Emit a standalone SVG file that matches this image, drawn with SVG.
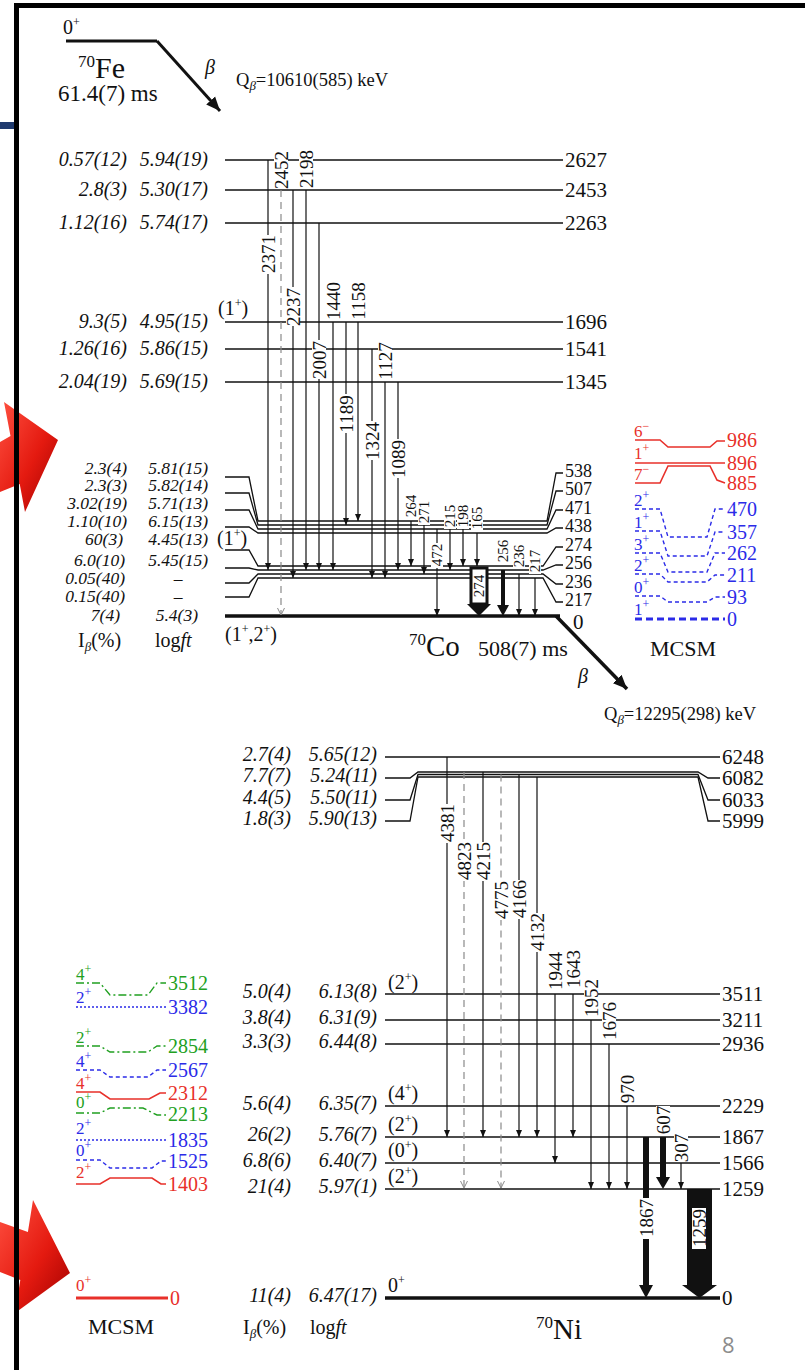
<svg xmlns="http://www.w3.org/2000/svg" width="805" height="1370" viewBox="0 0 805 1370">
<defs>
<style>
text { font-family: "Liberation Serif", "Times New Roman", serif; fill: #111; }
.n { font-size: 21px; }
.m { font-size: 18px; }
.i { font-size: 20px; font-style: italic; }
.j { font-size: 17.5px; font-style: italic; }
.sp { font-size: 20px; }
.r4 { font-size: 19px; }
.r3 { font-size: 15px; }
.lv { stroke: #111; stroke-width: 1.3; fill: none; }
.tr { stroke: #111; stroke-width: 1.2; fill: none; }
.ds { stroke: #8a8a8a; stroke-width: 1.2; stroke-dasharray: 7 5; fill: none; }
.red { stroke: #e8302a; stroke-width: 1.6; fill: none; }
.blu { stroke: #2b2be8; stroke-width: 1.4; fill: none; stroke-dasharray: 4 3; }
.bdt { stroke: #2b2be8; stroke-width: 1.4; fill: none; stroke-dasharray: 2 2; }
.grn { stroke: #21a021; stroke-width: 1.4; fill: none; stroke-dasharray: 8 3 2 3; }
.tR { fill: #e8302a; font-size: 20px; }
.tB { fill: #2b2be8; font-size: 20px; }
.tG { fill: #21a021; font-size: 20px; }
.sR { fill: #e8302a; font-size: 17px; }
.sB { fill: #2b2be8; font-size: 17px; }
.sG { fill: #21a021; font-size: 17px; }
.wb { fill: #fff; }
</style>
<marker id="a" markerUnits="userSpaceOnUse" markerWidth="8" markerHeight="8" refX="7" refY="4" orient="auto"><path d="M0,1 L7,4 L0,7 Z" fill="#111"/></marker>
<marker id="h" markerUnits="userSpaceOnUse" markerWidth="9" markerHeight="9" refX="7" refY="4" orient="auto"><path d="M0,0.5 L7,4 L0,7.5" fill="none" stroke="#8a8a8a" stroke-width="1"/></marker>
<marker id="b" markerUnits="userSpaceOnUse" markerWidth="16" markerHeight="14" refX="14" refY="7" orient="auto"><path d="M0,1 L14,7 L0,13 Z" fill="#111"/></marker>
<linearGradient id="rg" x1="0" y1="0" x2="1" y2="1"><stop offset="0" stop-color="#ff5040"/><stop offset="0.55" stop-color="#e41a10"/><stop offset="1" stop-color="#a00000"/></linearGradient>
</defs>

<rect x="0" y="0" width="805" height="1370" fill="#fff"/>

<g id="decor">
<path d="M0,442 L10.5,436 L4,402 L58,440 L25,512 L19.7,484 L0,492 Z" fill="url(#rg)"/>
<path d="M0,1222 L27.9,1232 L33,1200 L70,1273 L15,1313 L20.3,1280 L0,1272 Z" fill="url(#rg)"/>
<rect x="0" y="122" width="17" height="7" fill="#1f3a6e"/>
<rect x="14" y="3" width="791" height="5" fill="#000"/>
<rect x="14" y="3" width="5" height="1367" fill="#000"/>
</g>

<g id="fe70">
<text class="sp" x="63" y="34">0<tspan font-size="12" dy="-8">+</tspan></text>
<line x1="66" y1="41" x2="157" y2="41" stroke="#111" stroke-width="3"/>
<line x1="157" y1="41" x2="220" y2="111" stroke="#111" stroke-width="3" marker-end="url(#b)"/>
<text x="78" y="78" font-size="30"><tspan font-size="17" dy="-11">70</tspan><tspan dy="11">Fe</tspan></text>
<text x="58" y="101" font-size="23">61.4(7) ms</text>
<text x="205" y="74" font-size="20" font-style="italic">β</text>
<text x="236" y="86" font-size="18.5">Q<tspan font-size="13" dy="4" font-style="italic">β</tspan><tspan dy="-4">=10610(585) keV</tspan></text>
</g>

<g id="co70-levels">
<g id="co-2627"><line class="lv" x1="225" y1="160" x2="563" y2="160"/><text class="i" x="127" y="166" text-anchor="end">0.57(12)</text><text class="i" x="208" y="166" text-anchor="end">5.94(19)</text><text class="n" x="565" y="167">2627</text></g>
<g id="co-2453"><line class="lv" x1="225" y1="190" x2="563" y2="190"/><text class="i" x="127" y="196" text-anchor="end">2.8(3)</text><text class="i" x="208" y="196" text-anchor="end">5.30(17)</text><text class="n" x="565" y="197">2453</text></g>
<g id="co-2263"><line class="lv" x1="225" y1="223" x2="563" y2="223"/><text class="i" x="127" y="229" text-anchor="end">1.12(16)</text><text class="i" x="208" y="229" text-anchor="end">5.74(17)</text><text class="n" x="565" y="230">2263</text></g>
<g id="co-1696"><line class="lv" x1="225" y1="322" x2="563" y2="322"/><text class="i" x="127" y="328" text-anchor="end">9.3(5)</text><text class="i" x="208" y="328" text-anchor="end">4.95(15)</text><text class="n" x="565" y="329">1696</text><text class="sp" x="218" y="315">(1<tspan font-size="12" dy="-8">+</tspan><tspan dy="8">)</tspan></text></g>
<g id="co-1541"><line class="lv" x1="225" y1="349" x2="563" y2="349"/><text class="i" x="127" y="355" text-anchor="end">1.26(16)</text><text class="i" x="208" y="355" text-anchor="end">5.86(15)</text><text class="n" x="565" y="356">1541</text></g>
<g id="co-1345"><line class="lv" x1="225" y1="382" x2="563" y2="382"/><text class="i" x="127" y="388" text-anchor="end">2.04(19)</text><text class="i" x="208" y="388" text-anchor="end">5.69(15)</text><text class="n" x="565" y="389">1345</text></g>

<g id="co-538"><path class="lv" d="M225,477 H249 L258,521 H547 L556,473 H563"/><text class="j" x="127" y="474" text-anchor="end">2.3(4)</text><text class="j" x="208" y="474" text-anchor="end">5.81(15)</text><text class="m" x="565" y="477">538</text></g>
<g id="co-507"><path class="lv" d="M225,493 H249 L258,525 H547 L556,491 H563"/><text class="j" x="127" y="491" text-anchor="end">2.3(3)</text><text class="j" x="208" y="491" text-anchor="end">5.82(14)</text><text class="m" x="565" y="495">507</text></g>
<g id="co-471"><path class="lv" d="M225,510 H249 L258,529 H547 L556,510 H563"/><text class="j" x="127" y="509" text-anchor="end">3.02(19)</text><text class="j" x="208" y="509" text-anchor="end">5.71(13)</text><text class="m" x="565" y="514">471</text></g>
<g id="co-438"><path class="lv" d="M225,527 H249 L258,533 H547 L556,528 H563"/><text class="j" x="127" y="527" text-anchor="end">1.10(10)</text><text class="j" x="208" y="527" text-anchor="end">6.15(13)</text><text class="m" x="565" y="532">438</text></g>
<g id="co-274"><path class="lv" d="M225,550 H249 L258,566 H543 L556,547 H563"/><text class="j" x="123" y="545" text-anchor="end">60(3)</text><text class="j" x="208" y="545" text-anchor="end">4.45(13)</text><text class="m" x="565" y="551">274</text><text class="sp" x="217" y="545">(1<tspan font-size="12" dy="-8">+</tspan><tspan dy="8">)</tspan></text></g>
<g id="co-256"><path class="lv" d="M225,568 H249 L258,570 H543 L556,565 H563"/><text class="j" x="125" y="566" text-anchor="end">6.0(10)</text><text class="j" x="208" y="566" text-anchor="end">5.45(15)</text><text class="m" x="565" y="569">256</text></g>
<g id="co-236"><path class="lv" d="M225,583 H249 L258,574 H543 L556,584 H563"/><text class="j" x="125" y="584" text-anchor="end">0.05(40)</text><text class="j" x="178" y="584" text-anchor="middle">–</text><text class="m" x="565" y="588">236</text></g>
<g id="co-217"><path class="lv" d="M225,597 H249 L258,578 H543 L556,602 H563"/><text class="j" x="125" y="602" text-anchor="end">0.15(40)</text><text class="j" x="178" y="602" text-anchor="middle">–</text><text class="m" x="565" y="606">217</text></g>
<g id="co-0"><line x1="225" y1="616" x2="560" y2="616" stroke="#111" stroke-width="3.5"/><text class="j" x="120" y="621" text-anchor="end">7(4)</text><text class="j" x="198" y="621" text-anchor="end">5.4(3)</text><text class="n" x="573" y="629">0</text><text class="sp" x="225" y="641">(1<tspan font-size="12" dy="-8">+</tspan><tspan dy="8">,2</tspan><tspan font-size="12" dy="-8">+</tspan><tspan dy="8">)</tspan></text></g>
<g id="co-cols"><text class="sp" x="78" y="647">I<tspan font-size="13" dy="4" font-style="italic">β</tspan><tspan dy="-4">(%)</tspan></text><text class="sp" x="155" y="647">log<tspan font-style="italic">ft</tspan></text></g>
<g id="co-title"><text x="409" y="656" font-size="29"><tspan font-size="17" dy="-11">70</tspan><tspan dy="11">Co</tspan></text><text x="478" y="656" font-size="22">508(7) ms</text>
<line x1="556" y1="616" x2="627" y2="689" stroke="#111" stroke-width="3.5" marker-end="url(#b)"/>
<text x="578" y="683" font-size="20" font-style="italic">β</text>
<text x="604" y="720" font-size="18.5">Q<tspan font-size="13" dy="4" font-style="italic">β</tspan><tspan dy="-4">=12295(298) keV</tspan></text></g>
</g>

<g id="co-mcsm">
<path class="red" d="M635,440 H660 L668,447 H710 L717,441 H725"/>
<path class="red" d="M635,463 H725" stroke-width="2.2"/>
<path class="red" d="M635,483 H660 L668,466 H710 L717,480 L725,483"/>
<text class="sR" x="634" y="437">6<tspan font-size="12" dy="-7">−</tspan></text>
<text class="sR" x="634" y="459">1<tspan font-size="12" dy="-7">+</tspan></text>
<text class="sR" x="634" y="480">7<tspan font-size="12" dy="-7">−</tspan></text>
<text class="tR" x="727" y="447">986</text>
<text class="tR" x="727" y="470">896</text>
<text class="tR" x="727" y="490">885</text>
<path class="blu" d="M635,509 H660 L668,537 H707 L715,509 H725"/>
<path class="blu" d="M635,531 H660 L668,556 H707 L715,532 H725"/>
<path class="blu" d="M635,553 H660 L668,572 H707 L715,553 H725"/>
<path class="blu" d="M635,574 H660 L668,582 H707 L715,575 H725"/>
<path class="blu" d="M635,596 H660 L668,602 H707 L715,597 H725"/>
<path d="M635,619 H725" stroke="#2b2be8" stroke-width="3" stroke-dasharray="7 4" fill="none"/>
<text class="sB" x="634" y="506">2<tspan font-size="12" dy="-7">+</tspan></text>
<text class="sB" x="634" y="528">1<tspan font-size="12" dy="-7">+</tspan></text>
<text class="sB" x="634" y="550">3<tspan font-size="12" dy="-7">+</tspan></text>
<text class="sB" x="634" y="571">2<tspan font-size="12" dy="-7">+</tspan></text>
<text class="sB" x="634" y="593">0<tspan font-size="12" dy="-7">+</tspan></text>
<text class="sB" x="634" y="615">1<tspan font-size="12" dy="-7">+</tspan></text>
<text class="tB" x="727" y="516">470</text>
<text class="tB" x="727" y="539">357</text>
<text class="tB" x="727" y="560">262</text>
<text class="tB" x="727" y="582">211</text>
<text class="tB" x="727" y="604">93</text>
<text class="tB" x="727" y="626">0</text>
<text x="650" y="656" font-size="22">MCSM</text>
</g>

<g id="co-transitions">
<line class="tr" x1="268" y1="160" x2="268" y2="570" marker-end="url(#a)"/>
<line class="ds" x1="281" y1="190" x2="281" y2="615" marker-end="url(#h)"/>
<line class="tr" x1="293" y1="190" x2="293" y2="578" marker-end="url(#a)"/>
<line class="tr" x1="306" y1="190" x2="306" y2="570" marker-end="url(#a)"/>
<line class="tr" x1="319" y1="223" x2="319" y2="570" marker-end="url(#a)"/>
<line class="tr" x1="333" y1="322" x2="333" y2="570" stroke-width="2.2" marker-end="url(#a)"/>
<line class="tr" x1="346" y1="322" x2="346" y2="525" marker-end="url(#a)"/>
<line class="tr" x1="358" y1="322" x2="358" y2="521" marker-end="url(#a)"/>
<line class="tr" x1="372" y1="349" x2="372" y2="578" marker-end="url(#a)"/>
<line class="tr" x1="385" y1="382" x2="385" y2="578" marker-end="url(#a)"/>
<line class="tr" x1="398" y1="382" x2="398" y2="570" marker-end="url(#a)"/>
<line class="tr" x1="411" y1="521" x2="411" y2="566" marker-end="url(#a)"/>
<line class="tr" x1="424" y1="525" x2="424" y2="574" marker-end="url(#a)"/>
<line class="tr" x1="437" y1="529" x2="437" y2="616" marker-end="url(#a)"/>
<line class="tr" x1="450" y1="529" x2="450" y2="570" marker-end="url(#a)"/>
<line class="tr" x1="463" y1="529" x2="463" y2="566" marker-end="url(#a)"/>
<line class="tr" x1="477" y1="533" x2="477" y2="566" marker-end="url(#a)"/>
<rect x="471" y="568" width="16" height="36" fill="#fff" stroke="#111" stroke-width="3"/>
<polygon points="467,604 491,604 479,616" fill="#111"/>
<rect x="501" y="570" width="4" height="36" fill="#111"/>
<polygon points="497,605 509,605 503,616" fill="#111"/>
<line class="tr" x1="519" y1="574" x2="519" y2="616" marker-end="url(#a)"/>
<line class="tr" x1="535" y1="578" x2="535" y2="616" marker-end="url(#a)"/>

<rect class="wb" x="261" y="235" width="14" height="39"/><text class="r4" text-anchor="middle" dy="0.35em" transform="translate(268,254) rotate(-90)">2371</text>
<rect class="wb" x="274" y="150" width="14" height="39"/><text class="r4" text-anchor="middle" dy="0.35em" transform="translate(281,170) rotate(-90)">2452</text>
<rect class="wb" x="299" y="149" width="14" height="39"/><text class="r4" text-anchor="middle" dy="0.35em" transform="translate(306,169) rotate(-90)">2198</text>
<rect class="wb" x="286" y="287" width="14" height="39"/><text class="r4" text-anchor="middle" dy="0.35em" transform="translate(293,307) rotate(-90)">2237</text>
<rect class="wb" x="326" y="281" width="14" height="39"/><text class="r4" text-anchor="middle" dy="0.35em" transform="translate(333,301) rotate(-90)">1440</text>
<rect class="wb" x="351" y="281" width="14" height="39"/><text class="r4" text-anchor="middle" dy="0.35em" transform="translate(358,301) rotate(-90)">1158</text>
<rect class="wb" x="312" y="340" width="14" height="39"/><text class="r4" text-anchor="middle" dy="0.35em" transform="translate(319,360) rotate(-90)">2007</text>
<rect class="wb" x="378" y="341" width="14" height="39"/><text class="r4" text-anchor="middle" dy="0.35em" transform="translate(385,361) rotate(-90)">1127</text>
<rect class="wb" x="339" y="394" width="14" height="39"/><text class="r4" text-anchor="middle" dy="0.35em" transform="translate(346,414) rotate(-90)">1189</text>
<rect class="wb" x="365" y="421" width="14" height="39"/><text class="r4" text-anchor="middle" dy="0.35em" transform="translate(372,441) rotate(-90)">1324</text>
<rect class="wb" x="391" y="439" width="14" height="39"/><text class="r4" text-anchor="middle" dy="0.35em" transform="translate(398,459) rotate(-90)">1089</text>
<rect class="wb" x="405" y="494" width="12" height="25"/><text class="r3" text-anchor="middle" dy="0.35em" transform="translate(411,506) rotate(-90)">264</text>
<rect class="wb" x="418" y="500" width="12" height="25"/><text class="r3" text-anchor="middle" dy="0.35em" transform="translate(424,512) rotate(-90)">271</text>
<rect class="wb" x="444" y="504" width="12" height="25"/><text class="r3" text-anchor="middle" dy="0.35em" transform="translate(450,516) rotate(-90)">215</text>
<rect class="wb" x="457" y="504" width="12" height="25"/><text class="r3" text-anchor="middle" dy="0.35em" transform="translate(463,516) rotate(-90)">198</text>
<rect class="wb" x="471" y="506" width="12" height="25"/><text class="r3" text-anchor="middle" dy="0.35em" transform="translate(477,518) rotate(-90)">165</text>
<rect class="wb" x="431" y="543" width="12" height="25"/><text class="r3" text-anchor="middle" dy="0.35em" transform="translate(437,555) rotate(-90)">472</text>
<rect class="wb" x="497" y="539" width="12" height="25"/><text class="r3" text-anchor="middle" dy="0.35em" transform="translate(503,551) rotate(-90)">256</text>
<rect class="wb" x="513" y="544" width="12" height="25"/><text class="r3" text-anchor="middle" dy="0.35em" transform="translate(519,556) rotate(-90)">236</text>
<rect class="wb" x="529" y="549" width="12" height="25"/><text class="r3" text-anchor="middle" dy="0.35em" transform="translate(535,561) rotate(-90)">217</text>
<text class="r3" text-anchor="middle" dy="0.35em" transform="translate(479,586) rotate(-90)">274</text>
</g>

<g id="ni70-levels">
<g id="ni-6248"><line class="lv" x1="385" y1="757" x2="720" y2="757"/><text class="i" x="291" y="761" text-anchor="end">2.7(4)</text><text class="i" x="377" y="761" text-anchor="end">5.65(12)</text><text class="n" x="722" y="764">6248</text></g>
<g id="ni-6082"><path class="lv" d="M385,778 H410 L418,772 H698 L708,778 H720"/><text class="i" x="291" y="782" text-anchor="end">7.7(7)</text><text class="i" x="377" y="782" text-anchor="end">5.24(11)</text><text class="n" x="722" y="785">6082</text></g>
<g id="ni-6033"><path class="lv" d="M385,800 H410 L418,774.5 H698 L708,800 H720"/><text class="i" x="291" y="804" text-anchor="end">4.4(5)</text><text class="i" x="377" y="804" text-anchor="end">5.50(11)</text><text class="n" x="722" y="807">6033</text></g>
<g id="ni-5999"><path class="lv" d="M385,821 H410 L418,777 H698 L708,821 H720"/><text class="i" x="291" y="825" text-anchor="end">1.8(3)</text><text class="i" x="377" y="825" text-anchor="end">5.90(13)</text><text class="n" x="722" y="828">5999</text></g>
<g id="ni-3511"><line class="lv" x1="385" y1="994" x2="720" y2="994"/><text class="i" x="291" y="998" text-anchor="end">5.0(4)</text><text class="i" x="377" y="998" text-anchor="end">6.13(8)</text><text class="n" x="722" y="1001">3511</text><text class="sp" x="388" y="989">(2<tspan font-size="12" dy="-8">+</tspan><tspan dy="8">)</tspan></text></g>
<g id="ni-3211"><line class="lv" x1="385" y1="1020" x2="720" y2="1020"/><text class="i" x="291" y="1024" text-anchor="end">3.8(4)</text><text class="i" x="377" y="1024" text-anchor="end">6.31(9)</text><text class="n" x="722" y="1027">3211</text></g>
<g id="ni-2936"><line class="lv" x1="385" y1="1044" x2="720" y2="1044"/><text class="i" x="291" y="1048" text-anchor="end">3.3(3)</text><text class="i" x="377" y="1048" text-anchor="end">6.44(8)</text><text class="n" x="722" y="1051">2936</text></g>
<g id="ni-2229"><line class="lv" x1="385" y1="1106" x2="720" y2="1106"/><text class="i" x="291" y="1110" text-anchor="end">5.6(4)</text><text class="i" x="377" y="1110" text-anchor="end">6.35(7)</text><text class="n" x="722" y="1113">2229</text><text class="sp" x="388" y="1100">(4<tspan font-size="12" dy="-8">+</tspan><tspan dy="8">)</tspan></text></g>
<g id="ni-1867"><line class="lv" x1="385" y1="1137" x2="720" y2="1137"/><text class="i" x="291" y="1141" text-anchor="end">26(2)</text><text class="i" x="377" y="1141" text-anchor="end">5.76(7)</text><text class="n" x="722" y="1144">1867</text><text class="sp" x="388" y="1131">(2<tspan font-size="12" dy="-8">+</tspan><tspan dy="8">)</tspan></text></g>
<g id="ni-1566"><line class="lv" x1="385" y1="1163" x2="720" y2="1163"/><text class="i" x="291" y="1167" text-anchor="end">6.8(6)</text><text class="i" x="377" y="1167" text-anchor="end">6.40(7)</text><text class="n" x="722" y="1170">1566</text><text class="sp" x="388" y="1157">(0<tspan font-size="12" dy="-8">+</tspan><tspan dy="8">)</tspan></text></g>
<g id="ni-1259"><line class="lv" x1="385" y1="1189" x2="720" y2="1189"/><text class="i" x="291" y="1193" text-anchor="end">21(4)</text><text class="i" x="377" y="1193" text-anchor="end">5.97(1)</text><text class="n" x="722" y="1196">1259</text><text class="sp" x="388" y="1183">(2<tspan font-size="12" dy="-8">+</tspan><tspan dy="8">)</tspan></text></g>
<g id="ni-0"><line x1="385" y1="1298" x2="720" y2="1298" stroke="#111" stroke-width="3.5"/><text class="i" x="291" y="1302" text-anchor="end">11(4)</text><text class="i" x="377" y="1302" text-anchor="end">6.47(17)</text><text class="n" x="722" y="1305">0</text><text class="sp" x="388" y="1292">0<tspan font-size="12" dy="-8">+</tspan></text></g>
<g id="ni-cols"><text class="sp" x="243" y="1334">I<tspan font-size="13" dy="4" font-style="italic">β</tspan><tspan dy="-4">(%)</tspan></text><text class="sp" x="310" y="1334">log<tspan font-style="italic">ft</tspan></text>
<text x="536" y="1339" font-size="29"><tspan font-size="17" dy="-11">70</tspan><tspan dy="11">Ni</tspan></text></g>
</g>

<g id="ni-mcsm">
<path class="grn" d="M76,983 H100 L110,995 H148 L157,983 H166"/>
<path class="bdt" d="M76,1007 H166"/>
<path class="grn" d="M76,1046 H100 L110,1052 H148 L157,1046 H166"/>
<path class="blu" d="M76,1070 H100 L110,1077 H148 L157,1070 H166"/>
<path class="red" d="M76,1092 H100 L110,1099 H149 L160,1093 H166"/>
<path class="grn" d="M76,1113 H100 L110,1108 H143 L157,1115 H166"/>
<path class="bdt" d="M76,1140 H166"/>
<path class="blu" d="M76,1160 H100 L110,1168 H152 L161,1161 H166"/>
<path class="red" d="M76,1184 H100 L110,1178 H152 L161,1184 H166"/>
<path d="M76,1298 H168" stroke="#e8302a" stroke-width="3" fill="none"/>
<text class="sG" x="76" y="980">4<tspan font-size="12" dy="-7">+</tspan></text>
<text class="sB" x="76" y="1003">2<tspan font-size="12" dy="-7">+</tspan></text>
<text class="sG" x="76" y="1043">2<tspan font-size="12" dy="-7">+</tspan></text>
<text class="sB" x="76" y="1067">4<tspan font-size="12" dy="-7">+</tspan></text>
<text class="sR" x="76" y="1089">4<tspan font-size="12" dy="-7">+</tspan></text>
<text class="sG" x="76" y="1108">0<tspan font-size="12" dy="-7">+</tspan></text>
<text class="sB" x="76" y="1134">2<tspan font-size="12" dy="-7">+</tspan></text>
<text class="sB" x="76" y="1156">0<tspan font-size="12" dy="-7">+</tspan></text>
<text class="sR" x="76" y="1178">2<tspan font-size="12" dy="-7">+</tspan></text>
<text class="sR" x="76" y="1291">0<tspan font-size="12" dy="-7">+</tspan></text>
<text class="tG" x="168" y="990">3512</text>
<text class="tB" x="168" y="1014">3382</text>
<text class="tG" x="168" y="1053">2854</text>
<text class="tB" x="168" y="1077">2567</text>
<text class="tR" x="168" y="1100">2312</text>
<text class="tG" x="168" y="1121">2213</text>
<text class="tB" x="168" y="1147">1835</text>
<text class="tB" x="168" y="1168">1525</text>
<text class="tR" x="168" y="1191">1403</text>
<text class="tR" x="170" y="1305">0</text>
<text x="88" y="1334" font-size="22">MCSM</text>
</g>

<g id="ni-transitions">
<line class="tr" x1="447" y1="757" x2="447" y2="1137" marker-end="url(#a)"/>
<line class="ds" x1="464" y1="772" x2="464" y2="1188" marker-end="url(#h)"/>
<line class="tr" x1="483" y1="772" x2="483" y2="1137" marker-end="url(#a)"/>
<line class="ds" x1="501" y1="774.5" x2="501" y2="1188" marker-end="url(#h)"/>
<line class="tr" x1="519" y1="774.5" x2="519" y2="1137" marker-end="url(#a)"/>
<line class="tr" x1="537" y1="777" x2="537" y2="1137" marker-end="url(#a)"/>
<line class="tr" x1="555" y1="994" x2="555" y2="1163" marker-end="url(#a)"/>
<line class="tr" x1="573" y1="994" x2="573" y2="1137" marker-end="url(#a)"/>
<line class="tr" x1="591" y1="1020" x2="591" y2="1189" marker-end="url(#a)"/>
<line class="tr" x1="609" y1="1044" x2="609" y2="1189" marker-end="url(#a)"/>
<line class="tr" x1="627" y1="1106" x2="627" y2="1189" marker-end="url(#a)"/>
<rect x="643" y="1137" width="6" height="149" fill="#111"/>
<polygon points="639,1285 653,1285 646,1298" fill="#111"/>
<rect x="660" y="1137" width="6" height="41" fill="#111"/>
<polygon points="656,1177 670,1177 663,1189" fill="#111"/>
<line class="tr" x1="681" y1="1163" x2="681" y2="1189" marker-end="url(#a)"/>
<rect x="687" y="1189" width="25" height="97" fill="#111"/>
<polygon points="682,1285 717,1285 699.5,1298" fill="#111"/>

<rect class="wb" x="440" y="804" width="14" height="39"/><text class="r4" text-anchor="middle" dy="0.35em" transform="translate(447,823) rotate(-90)">4381</text>
<rect class="wb" x="457" y="842" width="14" height="39"/><text class="r4" text-anchor="middle" dy="0.35em" transform="translate(464,861) rotate(-90)">4823</text>
<rect class="wb" x="476" y="842" width="14" height="39"/><text class="r4" text-anchor="middle" dy="0.35em" transform="translate(483,861) rotate(-90)">4215</text>
<rect class="wb" x="494" y="881" width="14" height="39"/><text class="r4" text-anchor="middle" dy="0.35em" transform="translate(501,900) rotate(-90)">4775</text>
<rect class="wb" x="512" y="880" width="14" height="39"/><text class="r4" text-anchor="middle" dy="0.35em" transform="translate(519,899) rotate(-90)">4166</text>
<rect class="wb" x="530" y="913" width="14" height="39"/><text class="r4" text-anchor="middle" dy="0.35em" transform="translate(537,932) rotate(-90)">4132</text>
<rect class="wb" x="548" y="952" width="14" height="39"/><text class="r4" text-anchor="middle" dy="0.35em" transform="translate(555,971) rotate(-90)">1944</text>
<rect class="wb" x="566" y="950" width="14" height="39"/><text class="r4" text-anchor="middle" dy="0.35em" transform="translate(573,969) rotate(-90)">1643</text>
<rect class="wb" x="584" y="979" width="14" height="39"/><text class="r4" text-anchor="middle" dy="0.35em" transform="translate(591,998) rotate(-90)">1952</text>
<rect class="wb" x="602" y="1002" width="14" height="39"/><text class="r4" text-anchor="middle" dy="0.35em" transform="translate(609,1021) rotate(-90)">1676</text>
<rect class="wb" x="620" y="1075" width="14" height="29"/><text class="r4" text-anchor="middle" dy="0.35em" transform="translate(627,1089) rotate(-90)">970</text>
<rect class="wb" x="656" y="1106" width="14" height="29"/><text class="r4" text-anchor="middle" dy="0.35em" transform="translate(663,1120) rotate(-90)">607</text>
<rect class="wb" x="674" y="1134" width="14" height="28"/><text class="r4" text-anchor="middle" dy="0.35em" transform="translate(681,1148) rotate(-90)">307</text>
<rect class="wb" x="639" y="1198" width="14" height="41"/><text class="r4" text-anchor="middle" dy="0.35em" transform="translate(646,1218) rotate(-90)">1867</text>
<rect class="wb" x="692" y="1208" width="14" height="41"/><text class="r4" text-anchor="middle" dy="0.35em" transform="translate(699,1228) rotate(-90)">1259</text>
</g>

<text x="722" y="1353" font-size="22" style="fill:#8c8c8c;font-family:'Open Sans','Liberation Sans',sans-serif">8</text>
</svg>
